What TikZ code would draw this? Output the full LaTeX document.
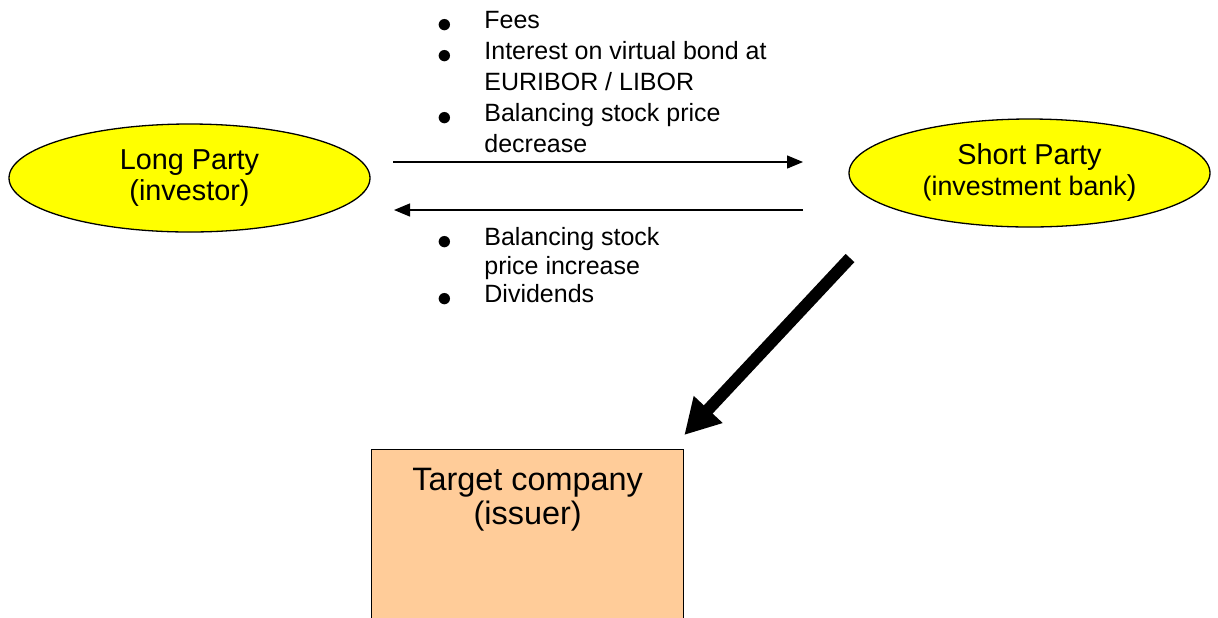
\documentclass[tikz,border=0pt]{standalone}
\usepackage{fontspec}
\setmainfont{Liberation Sans}
\usetikzlibrary{shapes.geometric,arrows.meta}
\definecolor{partyyellow}{HTML}{FFFF00}
\definecolor{issuerorange}{HTML}{FFCC99}
\newcommand{\bul}{\raisebox{-1.85pt}{\scalebox{1.23}{$\bullet$}}}
\tikzset{
  party/.style={ellipse, draw, line width=0.65pt, fill=partyyellow,
    minimum width=180.5pt, minimum height=54pt, inner sep=0pt,
    align=center, font=\fontsize{14.4}{15.5}\selectfont},
  issuer/.style={rectangle, draw, line width=0.65pt, fill=issuerorange,
    minimum width=156pt, minimum height=120pt, anchor=north west, inner sep=0pt},
  flow/.style={-{Triangle[length=8pt,width=6.5pt]}, line width=0.65pt},
  bigflow/.style={-{Triangle[length=17.5pt,width=18.5pt]}, line width=6pt},
  items/.style={anchor=north west, inner sep=0pt, align=left},
}
\begin{document}
\begin{tikzpicture}[x=0.5pt,y=-0.5pt]
  \useasboundingbox (0,0) rectangle (1218,617);
  \clip (0,0) rectangle (1218,617);
  % the two parties
  \node[party] (long) at (189.5,178) {Long Party\\(investor)};
  \node[party] (short) at (1029.5,173)
    {Short Party\\{\fontsize{13.4}{15.5}\selectfont(investment bank}{)}};
  % the issuer
  \node[issuer] (target) at (371,449) {};
  \node[font=\fontsize{16.2}{17}\selectfont, align=center, anchor=north, inner sep=0pt]
    (targettext) at ([yshift=-9.5pt]target.north) {Target company\\(issuer)};
  % payments long -> short
  \node[items, font=\fontsize{12.5}{15.4}\selectfont] (paylong) at (437,7)
    {\begin{tabular}{@{}p{23.5pt}@{}l@{}}
      \bul & Fees\\
      \bul & Interest on virtual bond at\\
           & EURIBOR / LIBOR\\
      \bul & Balancing stock price\\
           & decrease
    \end{tabular}};
  % payments short -> long
  \node[items, font=\fontsize{12.5}{14.3}\selectfont] (payshort) at (437,225)
    {\begin{tabular}{@{}p{23.5pt}@{}l@{}}
      \bul & Balancing stock\\
           & price increase\\
      \bul & Dividends
    \end{tabular}};
  \coordinate (toplft) at (393,162);
  \coordinate (toprgt) at (803,162);
  \coordinate (botrgt) at (803,210);
  \coordinate (botlft) at (394,210);
  \coordinate (bigstart) at (850,258);
  \draw[flow] (toplft) -- (toprgt);
  \draw[flow] (botrgt) -- (botlft);
  \draw[bigflow] (bigstart) -- ([yshift=7pt]target.north east);
\end{tikzpicture}
\end{document}
